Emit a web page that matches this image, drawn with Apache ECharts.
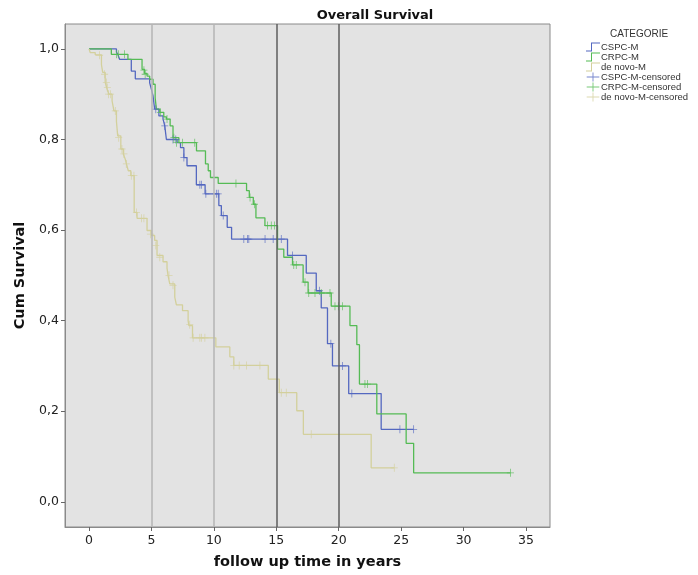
<!DOCTYPE html>
<html>
<head>
<meta charset="utf-8">
<script src="https://cdn.jsdelivr.net/npm/echarts@6/dist/echarts.min.js"></script>
<style>html,body{margin:0;padding:0;background:#fff}#c{width:698px;height:575px}</style>
</head>
<body>
<div id="c"></div>
<script>
// ---- data (time in years, cumulative survival) ----
const xTicks = [0, 5, 10, 15, 20, 25, 30, 35];
const yTicks = [0, 0.2, 0.4, 0.6, 0.8, 1.0];
const refLinesLight = [5, 10];
const refLinesDark = [15, 20];

const cspcSteps = [[0,1],[2.2,0.993],[2.32,0.987],[2.45,0.977],[3.39,0.951],[3.71,0.934],[4.86,0.925],[5.0,0.911],[5.13,0.896],[5.26,0.867],[5.6,0.852],[5.93,0.845],[6.07,0.830],[6.2,0.80],[7.06,0.793],[7.33,0.782],[7.6,0.760],[7.85,0.742],[8.6,0.70],[9.3,0.68],[10.4,0.654],[10.6,0.632],[11.07,0.606],[11.42,0.58],[15.9,0.544],[17.4,0.505],[18.2,0.466],[18.6,0.428],[19.1,0.349],[19.5,0.30],[20.8,0.239],[23.4,0.16],[26.0,0.16]];
const crpcSteps = [[0,1],[1.79,0.988],[3.12,0.977],[4.25,0.955],[4.45,0.946],[4.65,0.940],[4.86,0.933],[5.13,0.922],[5.3,0.892],[5.4,0.867],[5.67,0.860],[5.99,0.850],[6.2,0.845],[6.5,0.830],[6.73,0.804],[7.2,0.793],[8.61,0.775],[9.33,0.746],[9.55,0.731],[9.73,0.716],[10.35,0.703],[12.62,0.687],[12.84,0.672],[13.16,0.657],[13.37,0.627],[14.09,0.610],[15.1,0.558],[15.6,0.540],[16.3,0.523],[17.15,0.485],[17.55,0.461],[19.4,0.432],[20.9,0.389],[21.45,0.347],[21.66,0.260],[23.05,0.194],[25.4,0.129],[26.0,0.064],[33.75,0.064]];
const denovoSteps = [[0,1],[0.1,0.992],[0.5,0.987],[1.0,0.965],[1.1,0.948],[1.3,0.926],[1.45,0.911],[1.6,0.90],[1.85,0.885],[2.0,0.863],[2.2,0.84],[2.3,0.808],[2.55,0.779],[2.75,0.768],[2.9,0.757],[3.0,0.746],[3.15,0.731],[3.35,0.72],[3.62,0.639],[3.85,0.626],[4.65,0.599],[5.0,0.588],[5.26,0.577],[5.45,0.544],[5.93,0.530],[6.25,0.516],[6.33,0.50],[6.47,0.481],[6.87,0.452],[7.0,0.435],[7.49,0.422],[7.94,0.40],[8.0,0.389],[8.29,0.362],[10.16,0.342],[11.28,0.320],[11.6,0.301],[14.36,0.271],[15.24,0.241],[16.64,0.201],[17.17,0.149],[22.6,0.075],[24.45,0.075]];

const cspcCensored = [[5.35,0.867],[6.07,0.830],[6.73,0.80],[6.95,0.80],[7.6,0.76],[8.88,0.70],[9.0,0.70],[9.36,0.68],[10.2,0.68],[10.35,0.68],[10.75,0.632],[12.4,0.58],[12.7,0.58],[12.8,0.58],[14.1,0.58],[14.75,0.58],[15.4,0.58],[16.3,0.544],[18.45,0.466],[19.37,0.349],[20.3,0.30],[21.05,0.239],[24.9,0.16],[26.0,0.16]];
const crpcCensored = [[2.2,0.988],[2.35,0.988],[2.85,0.988],[4.4,0.953],[4.5,0.944],[5.72,0.86],[6.25,0.845],[6.8,0.804],[7.0,0.793],[7.5,0.793],[8.47,0.793],[11.77,0.703],[12.9,0.672],[13.25,0.657],[14.3,0.61],[14.6,0.61],[14.85,0.61],[16.4,0.523],[16.6,0.523],[17.3,0.485],[17.6,0.461],[18.1,0.461],[18.6,0.461],[19.3,0.461],[19.7,0.432],[19.97,0.432],[20.3,0.432],[22.1,0.26],[22.3,0.26],[33.75,0.064]];
const denovoCensored = [[0.85,0.986],[1.25,0.944],[1.39,0.926],[1.47,0.915],[1.57,0.90],[1.73,0.90],[2.11,0.863],[2.38,0.804],[2.64,0.779],[2.8,0.768],[2.99,0.746],[3.39,0.72],[3.6,0.72],[3.8,0.639],[4.2,0.626],[4.4,0.626],[4.92,0.591],[5.35,0.566],[5.67,0.54],[6.41,0.50],[6.73,0.478],[8.07,0.391],[8.34,0.362],[8.88,0.362],[9.01,0.362],[9.28,0.362],[11.6,0.301],[12.03,0.301],[12.62,0.301],[13.69,0.301],[15.4,0.241],[15.8,0.241],[17.8,0.149],[24.45,0.075]];

const seriesNames = ['CSPC-M','CRPC-M','de novo-M','CSPC-M-censored','CRPC-M-censored','de novo-M-censored'];
const legendTitle = 'CATEGORIE';
const chartTitle = 'Overall Survival';
const xName = 'follow up time in years';
const yName = 'Cum Survival';

// ---- styling ----
const C_BLUE = '#5468c0', C_GREEN = '#55bb55', C_BEIGE = '#d3d09c';
const plusPath = 'path://M0,4.5 L9,4.5 L9,5.5 L0,5.5 Z M4,0 L5,0 L5,10 L4,10 Z';
const stepIcon = 'path://M0,9 L5,9 L5,1 L14,1 L14,2 L6,2 L6,10 L0,10 Z';
const crossIcon = 'path://M0,4.5 L14,4.5 L14,5.5 L0,5.5 Z M6.5,0 L7.5,0 L7.5,10 L6.5,10 Z';
const FONT = 'DejaVu Sans';
const LFONT = 'Liberation Sans';

const chart = echarts.init(document.getElementById('c'), null, {renderer: 'canvas'});

function stepSeries(name, data, color, extra) {
  return Object.assign({
    name, type: 'line', step: 'end', data, showSymbol: false, symbol: 'none',
    lineStyle: {color, width: 1.3}, itemStyle: {color}, silent: true, z: 3
  }, extra || {});
}
function censSeries(name, data, color) {
  return {name, type: 'scatter', data, symbol: plusPath, symbolSize: [7, 8],
    itemStyle: {color}, silent: true, z: 4};
}

chart.setOption({
  animation: false,
  backgroundColor: '#ffffff',
  title: [
    {text: chartTitle, left: 370, top: 4, textAlign: 'center',
     textStyle: {fontFamily: FONT, fontSize: 13, fontWeight: 'bold', color: '#111'}},
    {text: legendTitle, left: 605, top: 24,
     textStyle: {fontFamily: LFONT, fontSize: 10, fontWeight: 'normal', color: '#333'}}
  ],
  legend: {
    orient: 'vertical', left: 581, top: 37, itemWidth: 14, itemHeight: 9, itemGap: 0,
    selectedMode: false,
    textStyle: {fontFamily: LFONT, fontSize: 9.5, lineHeight: 10, color: '#333', padding: [0,0,0,-4]},
    data: [
      {name: seriesNames[0], icon: stepIcon, itemStyle: {color: C_BLUE}},
      {name: seriesNames[1], icon: stepIcon, itemStyle: {color: C_GREEN}},
      {name: seriesNames[2], icon: stepIcon, itemStyle: {color: C_BEIGE}},
      {name: seriesNames[3], icon: crossIcon, itemStyle: {color: C_BLUE}},
      {name: seriesNames[4], icon: crossIcon, itemStyle: {color: C_GREEN}},
      {name: seriesNames[5], icon: crossIcon, itemStyle: {color: C_BEIGE}}
    ]
  },
  grid: {left: 65, right: 148, top: 24, bottom: 46, show: true,
         backgroundColor: '#e3e3e3', borderColor: '#8a8a8a', borderWidth: 1},
  xAxis: {
    type: 'value', min: -1.92, max: 36.92,
    name: xName, nameLocation: 'middle', nameGap: 28,
    nameTextStyle: {fontFamily: FONT, fontSize: 14.5, fontWeight: 'bold', color: '#111'},
    axisLine: {show: true, onZero: false, lineStyle: {color: '#8a8a8a'}},
    axisTick: {show: true, customValues: xTicks, length: 4, lineStyle: {color: '#666'}},
    axisLabel: {customValues: xTicks, fontFamily: FONT, fontSize: 12.5, color: '#222', margin: 7},
    splitLine: {show: false}
  },
  yAxis: {
    type: 'value', min: -0.0557, max: 1.055,
    name: yName, nameLocation: 'middle', nameGap: 33, nameRotate: 90,
    nameTextStyle: {fontFamily: FONT, fontSize: 14.5, fontWeight: 'bold', color: '#111'},
    axisLine: {show: true, onZero: false, lineStyle: {color: '#8a8a8a'}},
    axisTick: {show: true, customValues: yTicks, length: 4, lineStyle: {color: '#666'}},
    axisLabel: {customValues: yTicks, fontFamily: FONT, fontSize: 12.5, color: '#222', margin: 6,
      formatter: v => v.toFixed(1).replace('.', ',')},
    splitLine: {show: false}
  },
  series: [
    stepSeries(seriesNames[0], cspcSteps, C_BLUE, {
      markLine: {silent: true, symbol: ['none','none'], label: {show: false}, animation: false,
        data: refLinesLight.map(v => ({xAxis: v, lineStyle: {color: '#b4b4b4', width: 1.5, type: 'solid'}}))
          .concat(refLinesDark.map(v => ({xAxis: v, lineStyle: {color: '#5e5e5e', width: 1.5, type: 'solid'}})))
      }
    }),
    stepSeries(seriesNames[1], crpcSteps, C_GREEN),
    stepSeries(seriesNames[2], denovoSteps, C_BEIGE),
    censSeries(seriesNames[3], cspcCensored, C_BLUE),
    censSeries(seriesNames[4], crpcCensored, C_GREEN),
    censSeries(seriesNames[5], denovoCensored, C_BEIGE)
  ]
});
</script>
</body>
</html>
